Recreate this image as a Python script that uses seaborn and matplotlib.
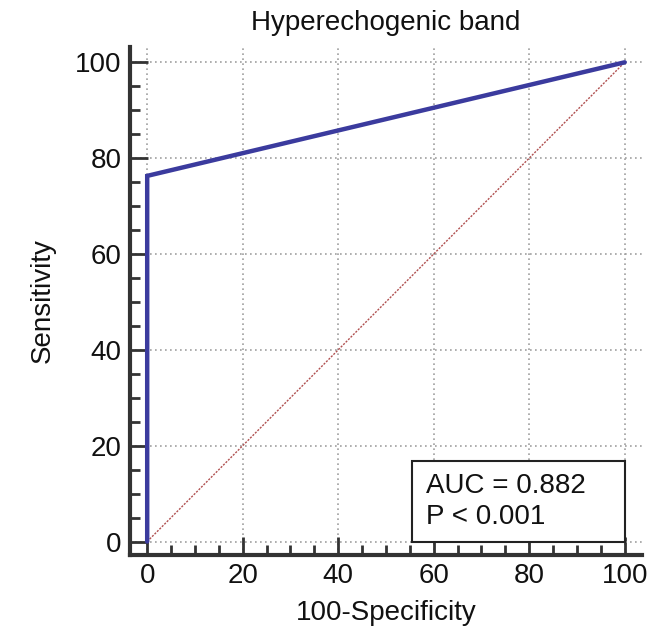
import matplotlib
matplotlib.use("Agg")
import matplotlib.pyplot as plt
import seaborn as sns
import pandas as pd
from matplotlib.ticker import MultipleLocator, FixedLocator
from matplotlib.patches import Rectangle

# Data
fpr = [0, 0, 100]          # 100-Specificity
tpr = [0, 76.3, 100]       # Sensitivity
diag_x = [0, 100]
diag_y = [0, 100]
title = "Hyperechogenic band"
xlabel = "100-Specificity"
ylabel = "Sensitivity"
auc_text = "AUC = 0.882\nP < 0.001"
ticks = [0, 20, 40, 60, 80, 100]

sns.set_style("white")
plt.rcParams['font.family'] = ['Liberation Sans', 'DejaVu Sans']

fig = plt.figure(figsize=(6.51, 6.39), dpi=100)
ax = fig.add_axes([0.1997, 0.1315, 0.7863, 0.795])

roc = pd.DataFrame({"x": fpr, "y": tpr})
diag = pd.DataFrame({"x": diag_x, "y": diag_y})

sns.lineplot(data=diag, x="x", y="y", ax=ax, color="#b05050", lw=1.0,
             linestyle=(0, (1.5, 1.0)), sort=False, estimator=None, zorder=3)
sns.lineplot(data=roc, x="x", y="y", ax=ax, color="#3b3b9e", lw=3.2,
             sort=False, estimator=None, zorder=4, solid_joinstyle="miter")

ax.set_xlim(-3.6, 103.6)
ax.set_ylim(-2.8, 103.2)
ax.set_xticks(ticks)
ax.set_yticks(ticks)
minor = [v for v in range(5, 100, 5) if v % 20 != 0]
ax.xaxis.set_minor_locator(FixedLocator(minor))
ax.yaxis.set_minor_locator(FixedLocator(minor))
ax.tick_params(axis="both", which="major", direction="in", length=13, width=2,
               color="#333333", labelsize=20, labelcolor="#111111", pad=6,
               bottom=True, left=True)
ax.tick_params(axis="both", which="minor", direction="in", length=7, width=2,
               color="#333333", bottom=True, left=True)

ax.grid(True, which="major", color="#a0a0a0", linestyle=(0, (1, 2)), lw=1.2)
for s in ["top", "right"]:
    ax.spines[s].set_visible(False)
for s in ["left", "bottom"]:
    ax.spines[s].set_linewidth(3)
    ax.spines[s].set_color("#333333")

ax.set_xlabel(xlabel, fontsize=20, color="#111111", labelpad=8)
ax.set_ylabel(ylabel, fontsize=20, color="#111111", labelpad=14)
ax.set_title(title, fontsize=20, color="#111111", pad=12)

box = Rectangle((55.4, 0), 44.6, 16.8, facecolor="white", edgecolor="#222222",
                lw=1.5, zorder=5)
ax.add_patch(box)
ax.text(58.3, 8.4, auc_text, fontsize=20, color="#111111", va="center",
        ha="left", zorder=6, linespacing=1.25)

fig.savefig("out.png", dpi=100)
